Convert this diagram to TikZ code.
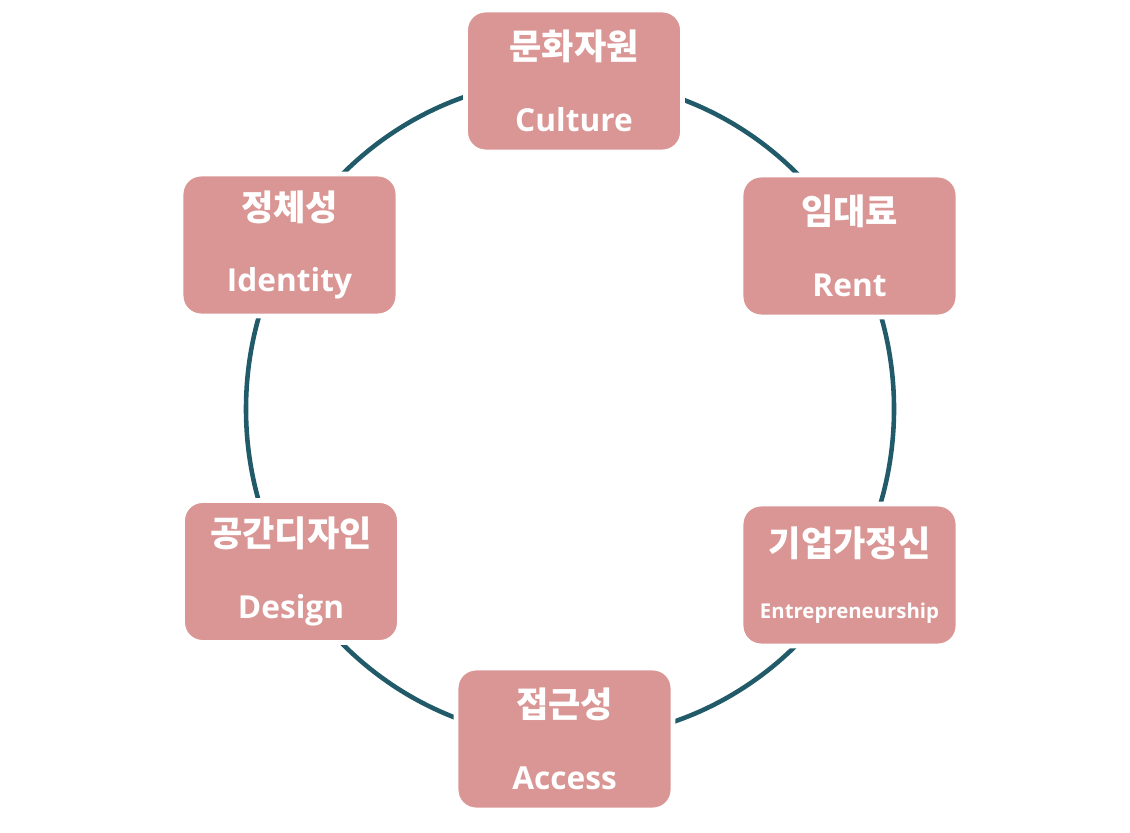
\documentclass[tikz,border=0pt]{standalone}
\usepackage{fontspec}
\setmainfont{Open Sans}
\newfontfamily\kr{Noto Sans CJK KR Bold}
\definecolor{boxpink}{HTML}{D99694}
\definecolor{ringteal}{HTML}{215A69}
\newcommand\krtitle[1]{{\kr\fontsize{10}{10}\selectfont #1}}
\begin{document}
\begin{tikzpicture}[nodes={draw=white, line width=1.4pt, fill=boxpink, rounded corners=0.2cm, minimum width=2.17cm, minimum height=1.42cm, text=white, align=center, font=\bfseries\fontsize{9}{20.3}\selectfont}]
    \useasboundingbox (0,0) rectangle (11.30,8.32);
    \draw [ringteal, line width=1.3pt] (5.70,4.23) ellipse [x radius=3.24, y radius=3.30];

    \node (culture) at (5.74,7.51) {\krtitle{문화자원}\\Culture};
    \node (rent) at (8.495,5.86) {\krtitle{임대료}\\Rent};
    \node (entre) at (8.495,2.57) [font=\bfseries\fontsize{9}{17.5}\selectfont] {\krtitle{기업가정신}\\{\fontsize{5.8}{7}\selectfont Entrepreneurship}};
    \node (access) at (5.645,0.93) {\krtitle{접근성}\\Access};
    \node (design) at (2.91,2.605) {\krtitle{공간디자인}\\Design};
    \node (identity) at (2.895,5.87) {\krtitle{정체성}\\Identity};
  \end{tikzpicture}
\end{document}
